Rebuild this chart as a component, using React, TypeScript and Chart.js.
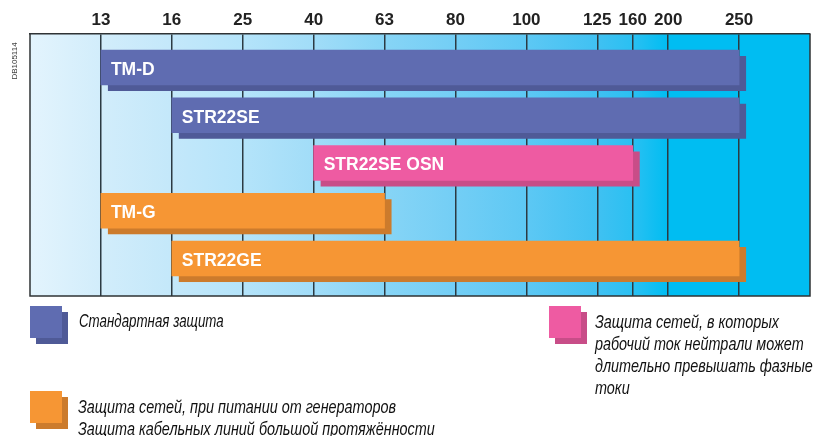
import React, { useEffect, useRef } from 'react';
import { Chart, registerables } from 'chart.js';

Chart.register(...registerables);

// Axis ratings (A) and their slot on the axis (non-uniform rating scale)
const ratings = ['13', '16', '25', '40', '63', '80', '100', '125', '160', '200', '250'];
const ratingSlots = [1, 2, 3, 4, 5, 6, 7, 8, 8.5, 9, 10];

// Trip units
const categories = ['TM-D', 'STR22SE', 'STR22SE OSN', 'TM-G', 'STR22GE'];
const rangeFrom = ['13', '16', '40', '13', '16'];
const rangeTo = ['250', '250', '160', '63', '250'];
const groupOf = ['standard', 'standard', 'neutral', 'generator', 'generator'];

const groupColor: Record<string, string> = {
  standard: '#5f6cb1',
  neutral: '#ee5ba2',
  generator: '#f69634',
};
const groupShadow: Record<string, string> = {
  standard: '#4f5a97',
  neutral: '#c84d88',
  generator: '#cc7b2c',
};

const legendStandard = ['Стандартная защита'];
const legendNeutral = [
  'Защита сетей, в которых',
  'рабочий ток нейтрали может',
  'длительно превышать фазные',
  'токи',
];
const legendGenerator = [
  'Защита сетей, при питании от генераторов',
  'Защита кабельных линий большой протяжённости',
];

const slotOf = (r: string) => ratingSlots[ratings.indexOf(r)];

const bgStops: [number, string][] = [
  [0, '#e3f4fd'],
  [0.09, '#d2edfb'],
  [0.18, '#c4e8fa'],
  [0.27, '#b5e4fa'],
  [0.36, '#a2ddf8'],
  [0.45, '#88d5f6'],
  [0.545, '#73cef5'],
  [0.636, '#5dc8f4'],
  [0.727, '#40c1f2'],
  [0.773, '#2ac0f2'],
  [0.818, '#00bdf2'],
  [1, '#00bdf2'],
];

const SHADOW_DX = 7;
const SHADOW_DY = 6;

const plugins: any[] = [
  {
    id: 'bg',
    beforeDraw(chart: any) {
      const { ctx, chartArea: a } = chart;
      const g = ctx.createLinearGradient(a.left, 0, a.right, 0);
      bgStops.forEach(([o, c]) => g.addColorStop(o, c));
      ctx.save();
      ctx.fillStyle = g;
      ctx.fillRect(a.left, a.top, a.right - a.left, a.bottom - a.top);
      ctx.restore();
    },
  },
  {
    id: 'frameAndShadows',
    beforeDatasetsDraw(chart: any) {
      const { ctx, chartArea: a } = chart;
      ctx.save();
      ctx.strokeStyle = '#2f3335';
      ctx.lineWidth = 1.5;
      ctx.beginPath();
      ctx.moveTo(a.left, a.top);
      ctx.lineTo(a.left, a.bottom);
      ctx.lineTo(a.right, a.bottom);
      ctx.lineTo(a.right, a.top);
      ctx.stroke();
      const meta = chart.getDatasetMeta(0);
      meta.data.forEach((el: any, i: number) => {
        const p = el.getProps(['x', 'y', 'base', 'height'], true);
        const l = Math.min(p.x, p.base);
        const w = Math.abs(p.x - p.base);
        ctx.fillStyle = groupShadow[groupOf[i]];
        ctx.fillRect(l + SHADOW_DX, p.y - p.height / 2 + SHADOW_DY, w, p.height);
      });
      ctx.restore();
    },
  },
  {
    id: 'barLabels',
    afterDatasetsDraw(chart: any) {
      const { ctx } = chart;
      const meta = chart.getDatasetMeta(0);
      ctx.save();
      ctx.fillStyle = '#ffffff';
      ctx.font = 'bold 17.5px "Liberation Sans", Arial, sans-serif';
      ctx.textBaseline = 'middle';
      ctx.textAlign = 'left';
      meta.data.forEach((el: any, i: number) => {
        const p = el.getProps(['x', 'y', 'base'], true);
        ctx.fillText(categories[i], Math.min(p.x, p.base) + 10, p.y + 2.5);
      });
      ctx.restore();
    },
  },
];

const legendFont: React.CSSProperties = {
  position: 'absolute',
  fontFamily: '"Liberation Sans", Arial, sans-serif',
  fontStyle: 'italic',
  fontSize: 18,
  lineHeight: '22px',
  color: '#111111',
  whiteSpace: 'nowrap',
  transform: 'scaleX(0.8)',
  transformOrigin: 'left top',
};

function LegendBox({ left, top, group }: { left: number; top: number; group: string }) {
  return (
    <>
      <div
        style={{
          position: 'absolute',
          left: left + 6,
          top: top + 6,
          width: 32,
          height: 32,
          background: groupShadow[group],
        }}
      />
      <div
        style={{
          position: 'absolute',
          left,
          top,
          width: 32,
          height: 32,
          background: groupColor[group],
        }}
      />
    </>
  );
}

export default function App() {
  const ref = useRef<HTMLCanvasElement | null>(null);

  useEffect(() => {
    if (!ref.current) return;
    const chart = new Chart(ref.current, {
      type: 'bar',
      data: {
        labels: categories,
        datasets: [
          {
            data: categories.map((_, i) => ({
              x: [slotOf(rangeFrom[i]), slotOf(rangeTo[i])],
              y: i,
            })) as any,
            backgroundColor: groupOf.map((g) => groupColor[g]),
            barThickness: 35,
            borderWidth: 0,
          },
        ],
      },
      options: {
        indexAxis: 'y',
        animation: false,
        responsive: false,
        layout: { padding: { left: 30, right: 8, top: 0, bottom: 140 } },
        plugins: {
          legend: { display: false },
          tooltip: { enabled: false },
          title: { display: false },
        },
        scales: {
          x: {
            type: 'linear',
            position: 'top',
            min: 0,
            max: 11,
            offset: false,
            afterBuildTicks: (s: any) => {
              s.ticks = ratingSlots.map((v) => ({ value: v }));
            },
            afterFit: (s: any) => {
              s.height = 34;
            },
            ticks: {
              autoSkip: false,
              maxRotation: 0,
              padding: 3,
              color: '#222222',
              font: { family: '"Liberation Sans", Arial, sans-serif', size: 17, weight: 'bold' },
              callback: (v: any) => {
                const k = ratingSlots.indexOf(Number(v));
                return k >= 0 ? ratings[k] : '';
              },
            },
            grid: { color: '#2c3a42', lineWidth: 1.5, drawTicks: false, offset: false },
            border: { display: true, color: '#2f3335', width: 1.5 },
          },
          y: {
            type: 'linear',
            display: false,
            reverse: true,
            offset: false,
            grid: { offset: false },
            min: -0.7016,
            max: 4.785,
          },
        },
      } as any,
      plugins,
    });
    return () => chart.destroy();
  }, []);

  return (
    <div style={{ position: 'absolute', left: 0, top: 0, width: 818, height: 436 }}>
      <canvas ref={ref} width={818} height={436} style={{ position: 'absolute', left: 0, top: 0 }} />
      <div
        style={{
          position: 'absolute',
          left: -5,
          top: 57,
          width: 40,
          height: 8,
          lineHeight: '8px',
          fontSize: 8,
          fontFamily: '"Liberation Sans", Arial, sans-serif',
          color: '#333',
          textAlign: 'center',
          transform: 'rotate(-90deg)',
        }}
      >
        DB105114
      </div>
      <LegendBox left={30} top={306} group="standard" />
      <div style={{ ...legendFont, left: 79, top: 309.5, transform: 'scaleX(0.74)' }}>
        {legendStandard.map((t) => (
          <div key={t}>{t}</div>
        ))}
      </div>
      <LegendBox left={549} top={306} group="neutral" />
      <div style={{ ...legendFont, left: 595, top: 311.3 }}>
        {legendNeutral.map((t) => (
          <div key={t}>{t}</div>
        ))}
      </div>
      <LegendBox left={30} top={391} group="generator" />
      <div style={{ ...legendFont, left: 78, top: 396 }}>
        {legendGenerator.map((t) => (
          <div key={t}>{t}</div>
        ))}
      </div>
    </div>
  );
}
